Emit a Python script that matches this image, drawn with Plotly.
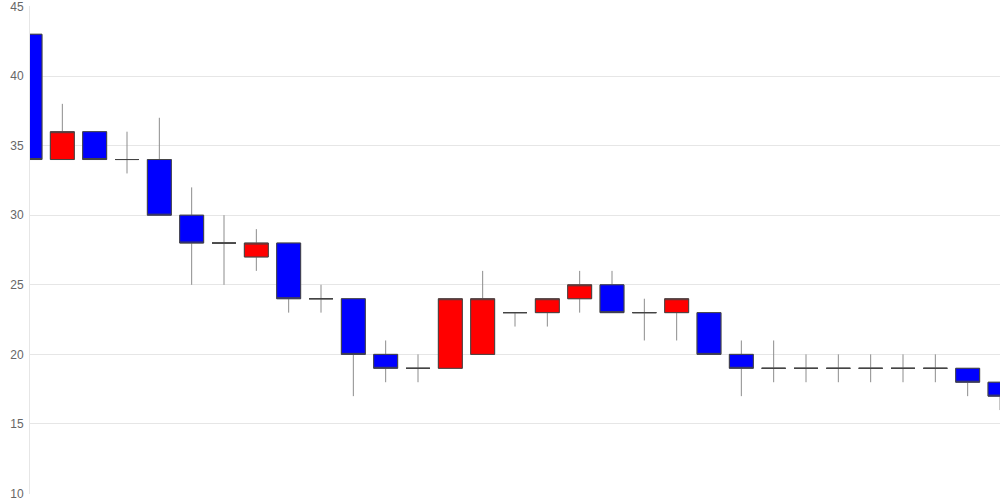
import plotly.graph_objects as go

idx = list(range(31))
opens = [43, 34, 36, 34, 34, 30, 28, 27, 28, 24, 24, 20, 19, 19, 20, 23, 23, 24, 25, 23, 23, 23, 20, 19, 19, 19, 19, 19, 19, 19, 18]
closes = [34, 36, 34, 34, 30, 28, 28, 28, 24, 24, 20, 19, 19, 24, 24, 23, 24, 25, 23, 23, 24, 20, 19, 19, 19, 19, 19, 19, 19, 18, 17]
highs = [43, 38, 36, 36, 37, 32, 30, 29, 28, 25, 24, 21, 20, 24, 26, 23, 24, 26, 26, 24, 24, 23, 21, 21, 20, 20, 20, 20, 20, 19, 18]
lows = [34, 34, 34, 33, 30, 25, 25, 26, 23, 23, 17, 18, 18, 19, 20, 22, 22, 23, 23, 21, 21, 20, 17, 18, 18, 18, 18, 18, 18, 17, 16]
y_ticks = [10, 15, 20, 25, 30, 35, 40, 45]

UP = "#ff0000"
DOWN = "#0000ff"

fig = go.Figure()
# wicks (lighter gray)
fig.add_trace(go.Candlestick(
    x=idx, open=opens, high=highs, low=lows, close=closes,
    increasing=dict(fillcolor=UP, line=dict(color="#8c8c8c", width=1)),
    decreasing=dict(fillcolor=DOWN, line=dict(color="#8c8c8c", width=1)),
    whiskerwidth=0, showlegend=False, hoverinfo="skip",
))
# bodies with darker outline
body_hi = [max(o, c) for o, c in zip(opens, closes)]
body_lo = [min(o, c) for o, c in zip(opens, closes)]
fig.add_trace(go.Candlestick(
    x=idx, open=opens, high=body_hi, low=body_lo, close=closes,
    increasing=dict(fillcolor=UP, line=dict(color="#444444", width=1)),
    decreasing=dict(fillcolor=DOWN, line=dict(color="#444444", width=1)),
    whiskerwidth=0, showlegend=False,
))

fig.update_layout(
    width=1000, height=500,
    margin=dict(l=30, r=0, t=6, b=6, pad=0),
    paper_bgcolor="white", plot_bgcolor="white",
    font=dict(family="Liberation Sans, Arial, sans-serif", size=12, color="#666666"),
    boxgap=0.26, boxgroupgap=0, boxmode="overlay",
    showlegend=False,
)
fig.update_xaxes(
    range=[0, 30], autorange=False, rangeslider=dict(visible=False), showticklabels=False,
    showgrid=False, zeroline=False, showline=False,
    ticks="", automargin=False,
)
fig.update_yaxes(
    range=[9.97, 45.03], autorange=False, tickvals=y_ticks, showgrid=True, gridcolor="#e6e6e6",
    zeroline=False, showline=True, linecolor="#e6e6e6", ticks="",
    tickfont=dict(size=12, color="#666666"), ticklabelstandoff=3, automargin=False,
    ticklabeloverflow="allow",
)
fig.write_html(
    "out.html",
    config={"displayModeBar": False},
    post_script="document.body.style.margin='0';document.body.style.overflow='hidden';",
)
